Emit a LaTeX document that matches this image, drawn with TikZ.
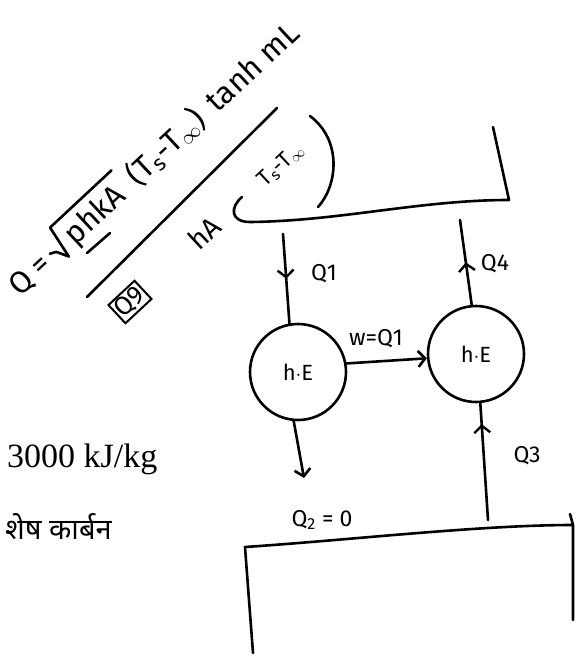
\documentclass[tikz,border=0pt]{standalone}
\usepackage{fontspec}
\setmainfont{Liberation Serif}
\newfontfamily\hand{Fira Sans}
\newfontfamily\deva[Script=Devanagari]{Noto Sans}
\usetikzlibrary{arrows.meta,decorations.markings}
\begin{document}
\begin{tikzpicture}[x=1pt,y=-1pt,
  ink/.style={line width=2.6pt, line cap=round, line join=round},
  he/.style={circle, draw, ink, minimum size=96pt, inner sep=0pt, font=\hand\fontsize{22}{24}\selectfont},
  lbl/.style={font=\hand\fontsize{23}{25}\selectfont, inner sep=1pt},
  formula/.style={font=\hand\fontsize{30}{32}\selectfont, inner sep=0pt, rotate=43},
  ftext/.style={font=\hand\fontsize{31}{33}\selectfont, inner sep=0pt, anchor=base west},
  barb/.tip={Straight Barb[length=7pt,width=16pt]},
  midarrow/.style={postaction={decorate}, decoration={markings, mark=at position #1 with {\arrow[line width=2.4pt]{barb}}}},
  tipend/.style={-{barb}}
]
\useasboundingbox (0,0) rectangle (584,657);
\fill[white] (0,0) rectangle (584,657);

% left printed text
\node[anchor=base west, inner sep=0pt, font=\fontsize{34}{36}\selectfont] (t1) at (7,467) {3000 kJ/kg};
\node[anchor=west, inner sep=0pt, font=\deva\fontsize{29}{32}\selectfont] (t2) at (5,527) {शेष कार्बन};

% diagonal formula Q = sqrt(phkA)(Ts-Tinf) tanh mL
\begin{scope}[shift={(20,298)}, rotate=43, transform shape]
  \node[ftext] (fq) at (0,0) {Q =};
  \node[ftext] (fr) at (76,0) {phkA};
  \node[ftext] (fs) at (162,0) {(T\textsubscript{s}-T\textsubscript{$\infty$})\, tanh mL};
  \draw[ink] (52,-12) -- (58,-9) -- (64,3) -- (70,-31) -- (154,-31);
\end{scope}

\coordinate (fa) at (87,297);
\coordinate (fb) at (277,108);
\draw[ink] (fa) -- (fb);
\coordinate (sa) at (87,253);
\coordinate (sb) at (110,233);
\draw[ink] (sa) -- (sb);
\node[formula, draw, line width=2pt, inner sep=2pt, font=\hand\fontsize{26}{28}\selectfont] (f2) at (130,302) {Q9};
\node[formula, font=\hand\fontsize{28}{30}\selectfont] (f3) at (204,233) {hA};
\node[formula, font=\hand\fontsize{22}{24}\selectfont] (f4) at (281,165) {T\textsubscript{s}-T\textsubscript{$\infty$}};
\coordinate (pb) at (310,116);
\coordinate (pe) at (318,207);
\draw[ink] (pb) .. controls (342,140) and (338,185) .. (pe);

% top reservoir with big parenthesis
\coordinate (ta) at (242,197);
\coordinate (tc) at (509,200);
\coordinate (td) at (493,127);
\draw[ink] (ta) .. controls (230,207) and (230,222) .. (250,222)
  .. controls (340,221) and (420,200) .. (tc) -- (td);

% bottom reservoir
\coordinate (ba) at (253,653);
\coordinate (bb) at (245,547);
\coordinate (bc) at (573,525);
\coordinate (bd) at (573,620);
\coordinate (bh) at (570,514);
\draw[ink] (ba) -- (bb) .. controls (350,540) and (480,525) .. (bc) -- (bd);
\draw[ink] (bh) -- (bc);

% heat engines
\node[he] (he1) at (298,372) {h$\cdot$E};
\node[he] (he2) at (476,354) {h$\cdot$E};

% connectors
\coordinate (q1top) at (283,234);
\draw[ink, midarrow=0.5] (q1top) -- (he1.100);
\coordinate (q4top) at (460,220);
\draw[ink, midarrow=0.5] (he2.95) -- (q4top);
\draw[ink, tipend] (he1.10) -- (he2.185);
\coordinate (q2end) at (304,478);
\draw[ink, tipend] (he1.265) -- (q2end);
\coordinate (q3bot) at (488,520);
\draw[ink, midarrow=0.82] (q3bot) -- (he2.275);

% labels
\node[lbl] (lq1) at (324,274) {Q1};
\node[lbl] (lq4) at (495,264) {Q4};
\node[lbl] (lw) at (376,339) {w=Q1};
\node[lbl] (lq2) at (322,520) {Q\textsubscript{2} = 0};
\node[lbl] (lq3) at (527,456) {Q3};
\end{tikzpicture}
\end{document}
